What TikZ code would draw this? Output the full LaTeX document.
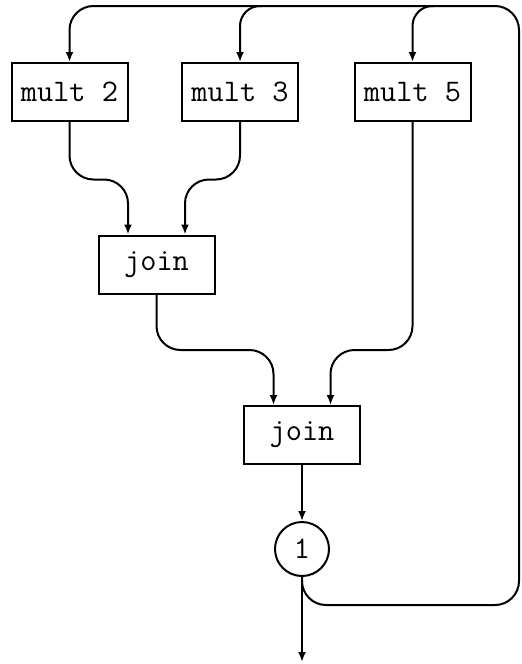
\documentclass[tikz,border=0pt]{standalone}
\usetikzlibrary{arrows.meta,calc}
\begin{document}
\begin{tikzpicture}[x=0.5pt,y=-0.5pt,
  line width=1pt,
  boxnode/.style={draw,rectangle,minimum width=58pt,minimum height=29pt,inner sep=0pt,
    font=\fontsize{15.7}{18}\selectfont\ttfamily},
  countnode/.style={draw,circle,minimum size=27pt,inner sep=0pt,
    font=\fontsize{15.7}{18}\selectfont\ttfamily},
  flow/.style={-{Latex[length=5pt,width=4pt]},rounded corners=12pt},
  feed/.style={-{Latex[length=5pt,width=4pt]},rounded corners=10pt}]
\useasboundingbox (0,0) rectangle (521,664);

% processing boxes
\node[boxnode] (m2) at (69.5,92) {mult 2};
\node[boxnode] (m3) at (240,92) {mult 3};
\node[boxnode] (m5) at (412.5,92) {mult 5};
\node[boxnode] (j1) at (156.5,264.5) {join};
\node[boxnode] (j2) at (302,435) {join};
\node[countnode] (c) at (302,549) {1};

% input points on the join boxes
\coordinate (j1a) at ($(j1.north)+(-28.5,0)$);
\coordinate (j1b) at ($(j1.north)+(28.5,0)$);
\coordinate (j2a) at ($(j2.north)+(-28.5,0)$);
\coordinate (j2b) at ($(j2.north)+(28.5,0)$);

% branch points on the feedback line
\coordinate (b3) at (262,6);
\coordinate (b5) at (434,6);
\coordinate (out) at (302,662);

% forward flow
\draw[flow] (m2.south) |- ($(j1a)+(0,-55)$) -- (j1a);
\draw[flow] (m3.south) |- ($(j1b)+(0,-55)$) -- (j1b);
\draw[flow] (j1.south) |- ($(j2a)+(0,-55)$) -- (j2a);
\draw[flow] (m5.south) |- ($(j2b)+(0,-55)$) -- (j2b);
\draw[flow] (j2.south) -- (c.north);
\draw[flow] (c.south) -- (out);

% feedback loop
\draw[flow] (c.south) |- (519,605) -- (519,6) -| (m2.north);
\draw[feed] (b3) -| (m3.north);
\draw[feed] (b5) -| (m5.north);
\end{tikzpicture}
\end{document}
